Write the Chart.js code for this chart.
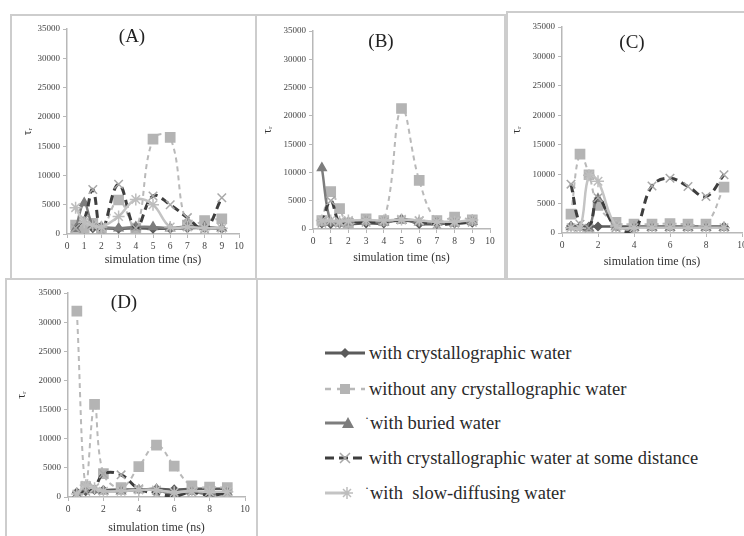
<!DOCTYPE html>
<html lang="en">
<head>
<meta charset="UTF-8">
<title>Rotational correlation time</title>
<script src="https://cdn.jsdelivr.net/npm/chart.js"></script>
<style>
  html, body { margin: 0; padding: 0; background: #fff; overflow: hidden; }
  body { width: 744px; height: 536px; position: relative; font-family: "Liberation Serif", serif; color: #333; }
  .frame { position: absolute; border: 2px solid #cdcdcd; box-sizing: border-box; }
  canvas { position: absolute; }
  .tag { position: absolute; font-size: 19px; transform: translate(-50%, -50%); color: #222; }
  #legend { position: absolute; left: 325px; top: 0; }
  .row { position: absolute; left: 0; height: 24px; display: flex; align-items: center; white-space: nowrap; font-size: 18.5px; color: #2a2a2a; }
  .row svg { margin-right: 4px; flex: none; }
  .dot { font-size: 12px; position: relative; top: -5px; margin-right: 1px; }
</style>
</head>
<body>
  <div class="frame" style="left:10px;top:14px;width:247px;height:266px"></div>
  <div class="frame" style="left:255px;top:14px;width:251px;height:266px"></div>
  <div class="frame" style="left:506px;top:11px;width:245px;height:269px"></div>
  <div class="frame" style="left:5px;top:278px;width:253px;height:262px"></div>

  <canvas id="chartA" width="246" height="265" style="left:10px;top:14px"></canvas>
  <canvas id="chartB" width="249" height="265" style="left:256px;top:14px"></canvas>
  <canvas id="chartC" width="253" height="268" style="left:507px;top:11px"></canvas>
  <canvas id="chartD" width="252" height="257" style="left:5px;top:279px"></canvas>

  <div class="tag" style="left:132px;top:36px">(A)</div>
  <div class="tag" style="left:381px;top:41px">(B)</div>
  <div class="tag" style="left:632px;top:42px">(C)</div>
  <div class="tag" style="left:124px;top:302px">(D)</div>

  <div id="legend">
    <div class="row" style="top:341px"><svg width="40" height="14"><line x1="0" y1="7" x2="40" y2="7" stroke="#5b5b5b" stroke-width="3"/><polygon points="20,2 25,7 20,12 15,7" fill="#5b5b5b"/></svg><span>with crystallographic water</span></div>
    <div class="row" style="top:377px"><svg width="40" height="14"><line x1="0" y1="7" x2="40" y2="7" stroke="#b9b9b9" stroke-width="2.5" stroke-dasharray="6,6"/><rect x="15" y="2" width="10" height="10" fill="#b4b4b4"/></svg><span>without any crystallographic water</span></div>
    <div class="row" style="top:411px"><svg width="36" height="14"><line x1="0" y1="7" x2="22" y2="7" stroke="#7d7d7d" stroke-width="3"/><polygon points="23,1 29,12 17,12" fill="#7d7d7d"/></svg><span class="dot">·</span><span>with buried water</span></div>
    <div class="row" style="top:446px"><svg width="40" height="14"><line x1="0" y1="7" x2="40" y2="7" stroke="#3e3e3e" stroke-width="3" stroke-dasharray="9,5"/><path d="M15,2 L25,12 M25,2 L15,12" stroke="#a8a8a8" stroke-width="1.5"/></svg><span>with crystallographic water at some distance</span></div>
    <div class="row" style="top:481px"><svg width="36" height="14"><line x1="0" y1="7" x2="24" y2="7" stroke="#c4c4c4" stroke-width="3"/><path d="M22,1 L22,13 M16,7 L28,7 M18,3 L26,11 M26,3 L18,11" stroke="#bdbdbd" stroke-width="1.5"/></svg><span class="dot">·</span><span>with&nbsp; slow-diffusing water</span></div>
  </div>

<script>
  // time points (ns) shared by every panel
  const times = [0.5, 1, 1.5, 2, 3, 4, 5, 6, 7, 8, 9];
  const seriesNames = [
    'with crystallographic water',
    'without any crystallographic water',
    'with buried water',
    'with crystallographic water at some distance',
    'with  slow-diffusing water'
  ];
  const xTitle = 'simulation time (ns)';
  const yTitle = 'τᵣ';
  const yMax = 35000, yStep = 5000, xMax = 10;

  // panel A
  const crysA     = [1200, 900, 1000, 1000, 900, 1000, 900, 900, 1000, 1000, 900];
  const withoutA  = [1500, 1000, 1800, 600, 5800, 1000, 16200, 16500, 1500, 2300, 2600];
  const buriedA   = [800, 5300, 1500, 1200, 1000, 1200, 1200, 1000, 1300, 1200, 1000];
  const distanceA = [1000, 2500, 7600, 500, 8500, 1000, 6500, 5000, 2800, 800, 6200];
  const slowA     = [4500, 2000, 1500, 1200, 3000, 5900, 5000, 1200, 1200, 1000, 1000];

  // panel B
  const crysB     = [1000, 900, 1000, 900, 1000, 1000, 1800, 900, 900, 1000, 1100];
  const withoutB  = [1500, 6600, 3600, 1000, 1800, 1500, 21300, 8600, 1500, 2100, 1600];
  const buriedB   = [10800, 1200, 1000, 1200, 1400, 1200, 1500, 1200, 1200, 1000, 1300];
  const distanceB = [1000, 5000, 1000, 1300, 1200, 1300, 1600, 1400, 800, 1000, 1200];
  const slowB     = [1500, 1500, 1300, 1500, 1600, 1500, 1700, 1500, 1300, 1300, 1600];

  // panel C
  const crysC     = [1200, 1100, 1100, 1100, 1100, 1100, 1100, 1100, 1100, 1100, 1100];
  const withoutC  = [3200, 13400, 9900, 4700, 1800, 1500, 1500, 1600, 1500, 1500, 7800];
  const buriedC   = [1000, 900, 800, 5800, 1000, 900, 900, 900, 900, 900, 900];
  const distanceC = [8300, 1500, 800, 6000, 900, 400, 8000, 9300, 7900, 6200, 9900];
  const slowC     = [900, 800, 9800, 8800, 1200, 900, 900, 900, 900, 900, 900];

  // panel D
  const crysD     = [800, 1000, 1200, 1200, 1300, 1300, 1400, 1300, 1400, 1400, 1400];
  const withoutD  = [31900, 1800, 15900, 4000, 1600, 5200, 8900, 5300, 1900, 1700, 1600];
  const buriedD   = [300, 1500, 1200, 1000, 1000, 1200, 1300, 300, 900, 400, 800];
  const distanceD = [300, 1000, 1600, 4000, 3800, 1400, 600, 200, 800, 300, 700];
  const slowD     = [500, 2000, 1500, 1000, 1000, 1200, 1200, 800, 1000, 900, 900];

  const looks = [
    { color: '#5b5b5b', width: 2.5, dash: [], point: 'rectRot', r: 4, pcol: '#5b5b5b' },
    { color: '#b9b9b9', width: 2, dash: [5, 4], point: 'rect', r: 6.5, pcol: '#b4b4b4' },
    { color: '#7d7d7d', width: 2.5, dash: [], point: 'triangle', r: 5, pcol: '#7d7d7d' },
    { color: '#3e3e3e', width: 3, dash: [8, 5], point: 'crossRot', r: 6, pcol: '#a8a8a8' },
    { color: '#c4c4c4', width: 2.5, dash: [], point: 'star', r: 6, pcol: '#bdbdbd' }
  ];

  const axisGray = '#b8b8b8';
  const family = '"Liberation Serif", serif';

  function makePanel(id, values, xStep, pad, yW, xH) {
    new Chart(document.getElementById(id), {
      type: 'line',
      data: {
        datasets: values.map((vals, i) => ({
          label: seriesNames[i],
          data: times.map((t, k) => ({ x: t, y: vals[k] })),
          borderColor: looks[i].color,
          borderWidth: looks[i].width,
          borderDash: looks[i].dash,
          pointStyle: looks[i].point,
          pointRadius: looks[i].r,
          pointBackgroundColor: looks[i].pcol,
          pointBorderColor: looks[i].pcol,
          pointBorderWidth: 1.5,
          tension: 0.4,
          fill: false,
          order: 5 - i
        }))
      },
      options: {
        responsive: false,
        animation: false,
        devicePixelRatio: 1,
        layout: { padding: pad },
        plugins: { legend: { display: false }, tooltip: { enabled: false } },
        scales: {
          x: {
            type: 'linear', min: 0, max: xMax,
            ticks: { stepSize: xStep, font: { family, size: 9.5 }, color: '#444', padding: 3, maxRotation: 0 },
            grid: { drawOnChartArea: false, tickLength: 4, color: axisGray },
            border: { color: axisGray, width: 1.5 },
            title: { display: true, text: xTitle, font: { family, size: 12 }, color: '#333', padding: 0 },
            afterFit: s => { s.height = xH; }
          },
          y: {
            min: 0, max: yMax,
            ticks: { stepSize: yStep, font: { family, size: 9 }, color: '#444', padding: 3, callback: v => String(v) },
            grid: { drawOnChartArea: false, tickLength: 4, color: axisGray },
            border: { color: axisGray, width: 1.5 },
            title: { display: true, text: yTitle, font: { family, size: 12 }, color: '#333', padding: 0 },
            afterFit: s => { s.width = yW; }
          }
        }
      }
    });
  }

  makePanel('chartA', [crysA, withoutA, buriedA, distanceA, slowA], 1, { left: 11, top: 15, right: 17, bottom: 12 }, 46, 33);
  makePanel('chartB', [crysB, withoutB, buriedB, distanceB, slowB], 1, { left: 5, top: 17, right: 15, bottom: 14 }, 52, 36);
  makePanel('chartC', [crysC, withoutC, buriedC, distanceC, slowC], 2, { left: 3, top: 16, right: 18, bottom: 10 }, 52, 36);
  makePanel('chartD', [crysD, withoutD, buriedD, distanceD, slowD], 2, { left: 10, top: 14, right: 12, bottom: 1 }, 53, 38);
</script>
</body>
</html>
